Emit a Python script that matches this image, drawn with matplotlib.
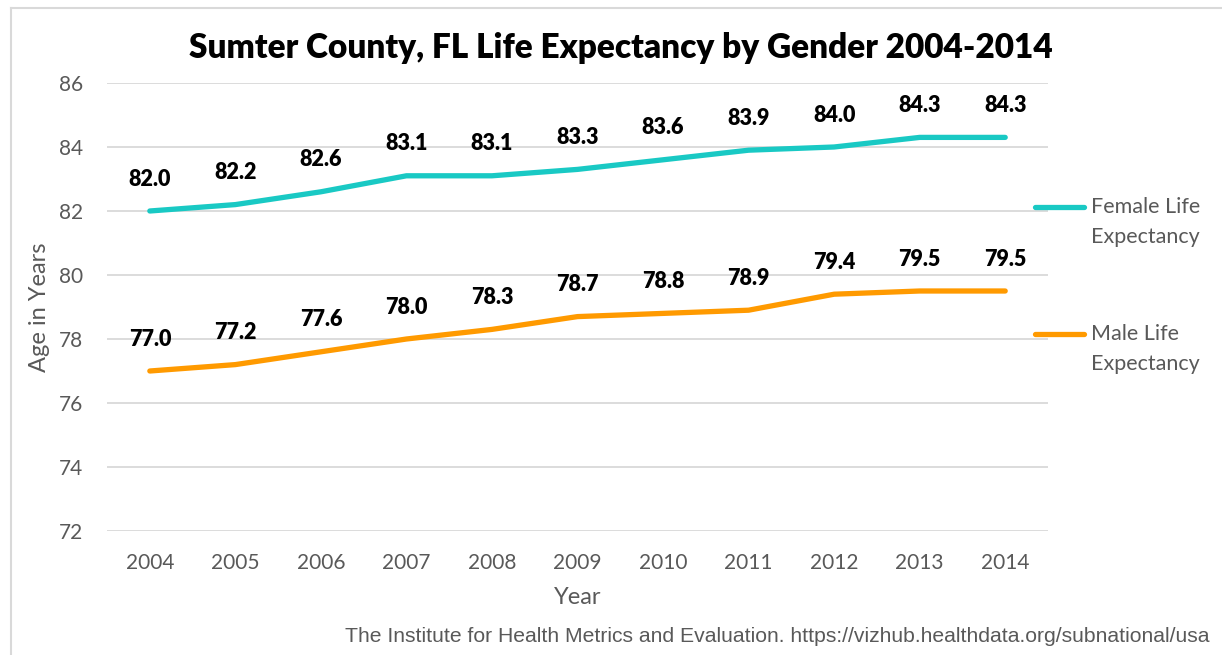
import matplotlib.pyplot as plt
from matplotlib.lines import Line2D

years = [2004, 2005, 2006, 2007, 2008, 2009, 2010, 2011, 2012, 2013, 2014]
female = [82.0, 82.2, 82.6, 83.1, 83.1, 83.3, 83.6, 83.9, 84.0, 84.3, 84.3]
male = [77.0, 77.2, 77.6, 78.0, 78.3, 78.7, 78.8, 78.9, 79.4, 79.5, 79.5]
yticks = [72, 74, 76, 78, 80, 82, 84, 86]

teal = '#19C9C4'
orange = '#FF9A00'
gray = '#595959'
font = ['Lato', 'DejaVu Sans']

plt.rcParams['font.family'] = font

fig = plt.figure(figsize=(12.22, 6.55), dpi=100)
ax = fig.add_axes([0.0876, 0.1893, 0.770, 0.684])

ax.plot(years, female, color=teal, lw=3.8, solid_capstyle='round')
ax.plot(years, male, color=orange, lw=3.8, solid_capstyle='round')

# data labels above the points
for x, y in zip(years, female):
    ax.annotate(f'{y:.1f}', (x, y), xytext=(0, 23), textcoords='offset points',
                ha='center', va='center', fontsize=15.5, fontweight='heavy', color='black')
for x, y in zip(years, male):
    ax.annotate(f'{y:.1f}', (x, y), xytext=(0, 23), textcoords='offset points',
                ha='center', va='center', fontsize=15.5, fontweight='heavy', color='black')

ax.set_xlim(2003.5, 2014.5)
ax.set_ylim(72, 86)
ax.set_xticks(years)
ax.set_yticks(yticks)
ax.tick_params(length=0, labelsize=15, labelcolor=gray)
ax.tick_params(axis='y', pad=17.5)
ax.tick_params(axis='x', pad=16)
ax.grid(axis='y', color='#D9D9D9', lw=1.3)
ax.set_axisbelow(True)
for s in ax.spines.values():
    s.set_visible(False)

ax.set_ylabel('Age in Years', fontsize=17, color=gray, labelpad=6)
ax.set_xlabel('Year', fontsize=17, color=gray, labelpad=10)

fig.text(0.508, 0.926, 'Sumter County, FL Life Expectancy by Gender 2004-2014',
         ha='center', va='center', fontsize=24, fontweight='heavy', color='black')

# legend on the right
for yl, col, lab1, lab2 in [(0.684, teal, 'Female Life', 'Expectancy'),
                            (0.490, orange, 'Male Life', 'Expectancy')]:
    fig.add_artist(Line2D([0.8470, 0.8870], [yl, yl], color=col, lw=3.8,
                          solid_capstyle='round', transform=fig.transFigure))
    fig.text(0.893, yl, lab1, ha='left', va='center', fontsize=15.5, color=gray)
    fig.text(0.893, yl - 30 / 655, lab2, ha='left', va='center', fontsize=15.5, color=gray)

fig.text(0.990, 0.028, 'The Institute for Health Metrics and Evaluation. https://vizhub.healthdata.org/subnational/usa',
         ha='right', va='center', fontsize=15.2, color=gray, family=['Liberation Sans', 'DejaVu Sans'])

# chart border
fig.add_artist(Line2D([0.009, 0.009], [0.0, 0.988], color='#D9D9D9', lw=1.5, transform=fig.transFigure))
fig.add_artist(Line2D([0.009, 1.0], [0.988, 0.988], color='#D9D9D9', lw=1.5, transform=fig.transFigure))

fig.savefig('out.png', dpi=100)
